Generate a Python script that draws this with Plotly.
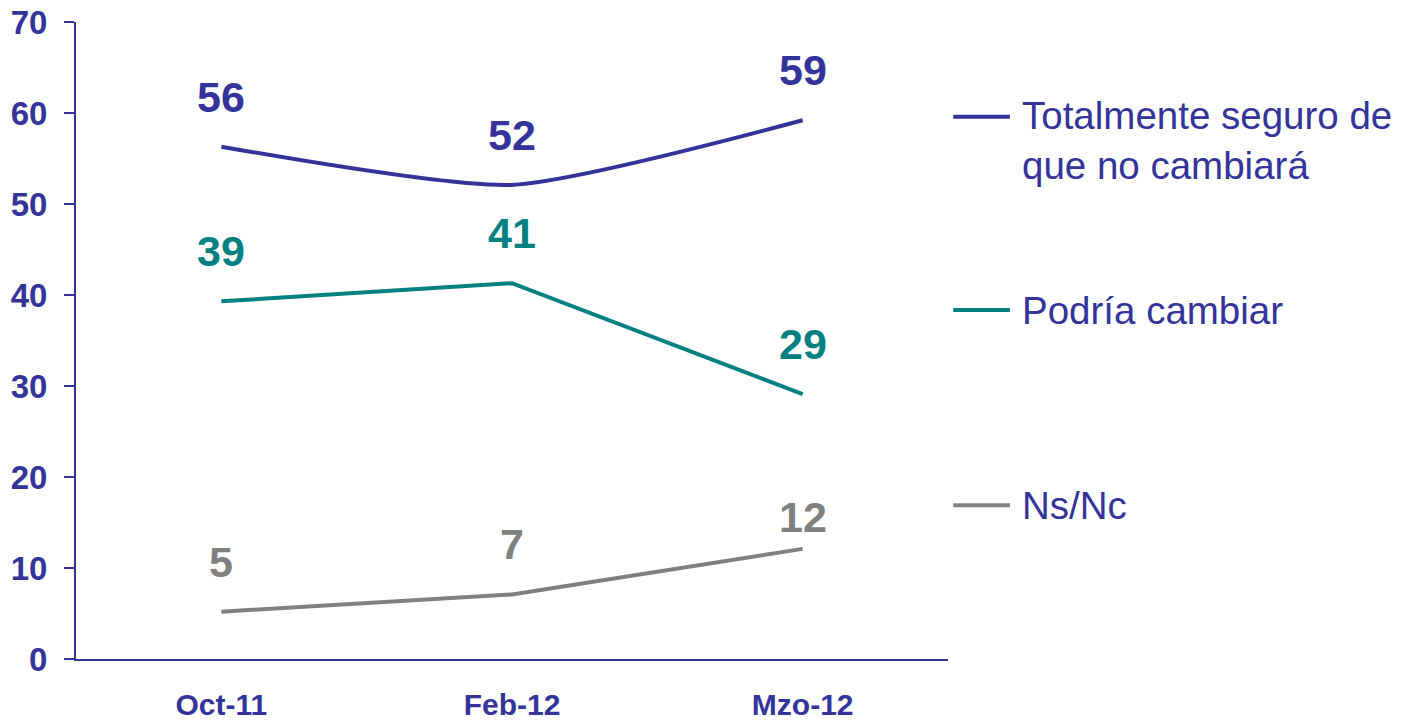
import plotly.graph_objects as go

categories = ["Oct-11", "Feb-12", "Mzo-12"]
series_names = ["Totalmente seguro de<br>que no cambiará", "Podría cambiar", "Ns/Nc"]
seguro = [56.3, 52.1, 59.2]
podria = [39.3, 41.3, 29.1]
nsnc = [5.2, 7.1, 12.1]
labels_seguro = ["56", "52", "59"]
labels_podria = ["39", "41", "29"]
labels_nsnc = ["5", "7", "12"]
y_ticks = [0, 10, 20, 30, 40, 50, 60, 70]

BLUE = "#333399"
TEAL = "#008080"
GRAY = "#808080"
FONT = "Liberation Sans, Arial, sans-serif"

fig = go.Figure()
series = [
    (seguro, labels_seguro, BLUE, "spline", [50, 50, 50]),
    (podria, labels_podria, TEAL, "linear", [50, 50, 50]),
    (nsnc, labels_nsnc, GRAY, "linear", [50, 50, 32]),
]
for (vals, labs, col, shape, shifts), name in zip(series, series_names):
    fig.add_trace(go.Scatter(
        x=categories, y=vals, mode="lines", name=name,
        line=dict(color=col, width=4, shape=shape, smoothing=0.6),
        showlegend=False, hoverinfo="skip",
    ))
    for c, v, t, s in zip(categories, vals, labs, shifts):
        fig.add_annotation(x=c, y=v, text=t, showarrow=False, yshift=s,
                           xanchor="center", yanchor="middle",
                           font=dict(family=FONT, size=43, color=col, weight="bold"))

# manual legend
legend_y = [59.6, 38.35, 16.9]
for (vals, labs, col, shape, shifts), name, ly in zip(series, series_names, legend_y):
    fig.add_shape(type="line", xref="paper", yref="y", x0=1.006, x1=1.071, y0=ly, y1=ly,
                  line=dict(color=col, width=4))
    fig.add_annotation(xref="paper", yref="y", x=1.0826, y=ly, text=name, showarrow=False,
                       xanchor="left", yanchor="top" if "<br>" in name else "middle",
                       yshift=25 if "<br>" in name else 0,
                       align="left",
                       font=dict(family=FONT, size=38.5, color=BLUE))

fig.update_layout(
    width=1403, height=722,
    margin=dict(l=76, r=455, t=22, b=63),
    plot_bgcolor="white", paper_bgcolor="white",
    xaxis=dict(range=[-0.5, 2.5], showline=True, linecolor=BLUE, linewidth=2,
               showgrid=False, zeroline=False, ticks="", ticklabelstandoff=18,
               automargin=False, ticklabeloverflow="allow",
               tickfont=dict(family=FONT, size=30, color=BLUE, weight="bold")),
    yaxis=dict(range=[0, 70], tickvals=y_ticks, showline=True, linecolor=BLUE, linewidth=2,
               showgrid=False, zeroline=False, ticks="outside", ticklen=10, tickwidth=2,
               tickcolor=BLUE, ticklabelstandoff=10, automargin=False,
               ticklabeloverflow="allow",
               tickfont=dict(family=FONT, size=33, color=BLUE, weight="bold")),
)

fig.write_html("out.html", config={"displayModeBar": False},
               post_script="document.body.style.margin='0';document.body.style.overflow='hidden';")
